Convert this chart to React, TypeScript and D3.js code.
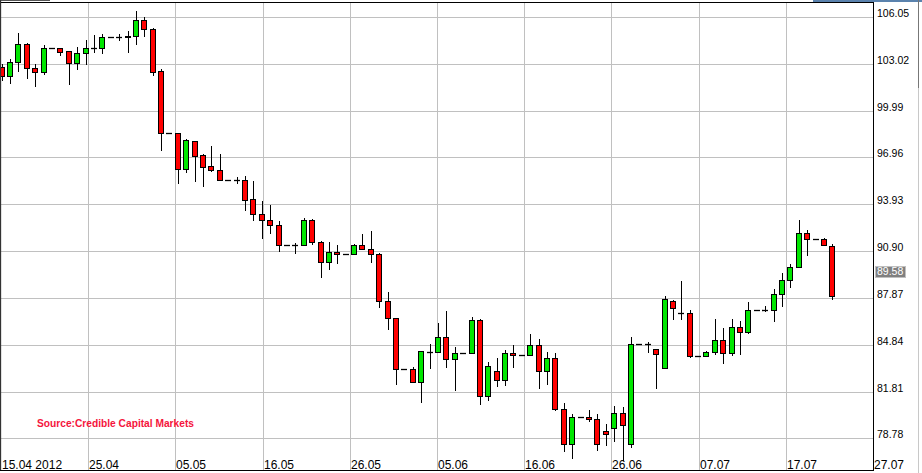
import React from "react";
import * as d3 from "d3";

const W = 922;
const H = 473;

// OHLC values, one bar per calendar day starting 15.04.2012
const opens = [
  102.79, 102.25, 103.12, 104.28, 102.73, 102.51, 104.02, 104.02, 103.83, 103.05,
  103.70, 104.02, 104.02, 104.74, 104.74, 104.74, 104.80, 105.84, 105.25, 102.53,
  98.52, 98.52, 96.23, 98.00, 97.10, 96.39, 96.13, 95.52, 95.52, 95.48,
  94.25, 93.28, 92.89, 92.57, 91.29, 91.29, 91.27, 92.91, 91.47, 90.21,
  90.82, 90.69, 90.69, 91.27, 91.01, 90.69, 87.65, 86.55, 83.25, 83.25,
  82.40, 84.37, 84.35, 85.32, 83.89, 84.28, 84.28, 86.42, 81.52, 83.12,
  82.53, 84.28, 84.15, 84.15, 84.80, 83.12, 83.96, 80.70, 78.39, 80.14,
  80.14, 80.01, 79.25, 79.43, 80.42, 78.39, 84.86, 84.86, 84.54, 83.31,
  87.65, 86.87, 86.87, 84.09, 84.09, 84.35, 85.12, 84.28, 85.96, 85.64,
  87.06, 87.06, 87.06, 88.10, 89.01, 89.85, 92.05, 91.66, 91.66, 91.21,
];
const highs = [
  103.01, 103.31, 105.01, 104.37, 102.99, 104.22, 104.02, 104.02, 103.83, 104.11,
  104.56, 104.88, 104.93, 104.74, 104.93, 105.14, 106.44, 106.05, 105.32, 102.66,
  98.52, 98.52, 98.13, 98.00, 97.18, 97.70, 97.18, 95.52, 95.71, 95.78,
  95.43, 94.14, 93.88, 92.85, 91.29, 91.40, 93.02, 92.97, 91.55, 91.47,
  91.27, 90.69, 91.34, 91.98, 92.18, 90.75, 88.23, 86.55, 83.25, 83.38,
  84.41, 84.86, 86.24, 87.02, 84.69, 84.28, 86.61, 86.48, 83.70, 83.96,
  84.48, 84.80, 84.15, 85.51, 85.21, 84.35, 84.28, 81.06, 80.35, 80.14,
  80.64, 80.35, 79.69, 80.87, 80.81, 85.36, 84.86, 85.01, 84.54, 87.99,
  87.72, 88.98, 87.06, 84.09, 84.41, 86.48, 85.90, 86.48, 86.35, 87.60,
  87.06, 87.32, 88.42, 89.48, 90.04, 92.91, 92.26, 91.66, 91.72, 91.34,
];
const lows = [
  101.97, 101.76, 102.57, 102.12, 101.60, 102.38, 104.02, 103.59, 101.73, 102.70,
  103.03, 103.80, 103.70, 104.74, 104.56, 103.80, 104.32, 104.84, 102.32, 97.46,
  98.52, 95.32, 96.02, 95.45, 95.13, 96.06, 95.52, 95.52, 95.32, 93.58,
  92.93, 91.76, 92.05, 90.90, 91.29, 90.79, 91.27, 91.34, 89.24, 89.76,
  90.15, 90.69, 90.69, 91.01, 90.21, 87.26, 85.83, 82.27, 83.25, 82.40,
  81.15, 83.31, 84.35, 83.41, 81.93, 84.28, 84.28, 81.02, 81.28, 82.14,
  82.25, 83.38, 84.15, 84.15, 82.02, 82.27, 80.63, 77.94, 77.52, 80.14,
  79.88, 78.00, 78.33, 78.62, 77.37, 78.24, 84.86, 84.35, 82.05, 83.31,
  86.48, 86.48, 84.02, 84.09, 84.09, 84.22, 83.63, 84.15, 84.22, 85.58,
  87.06, 87.00, 86.35, 87.36, 88.55, 89.85, 90.62, 91.66, 91.27, 87.78,
];
const closes = [
  102.25, 103.12, 104.28, 102.73, 102.51, 104.02, 104.02, 103.80, 103.05, 103.70,
  104.02, 104.02, 104.74, 104.74, 104.74, 104.79, 105.84, 105.25, 102.51, 98.52,
  98.52, 96.23, 98.07, 97.03, 96.36, 96.13, 95.52, 95.52, 95.52, 94.22,
  93.28, 92.89, 92.57, 91.29, 91.29, 91.29, 92.91, 91.47, 90.21, 90.82,
  90.69, 90.69, 91.27, 91.01, 90.69, 87.65, 86.55, 83.25, 83.25, 82.40,
  84.41, 84.37, 85.32, 83.89, 84.28, 84.28, 86.42, 81.52, 83.44, 82.53,
  84.28, 84.15, 84.15, 84.80, 83.12, 83.96, 80.70, 78.39, 80.14, 80.14,
  80.01, 78.39, 79.04, 80.42, 79.62, 84.90, 84.86, 84.86, 84.22, 87.78,
  87.19, 86.87, 84.09, 84.09, 84.35, 85.12, 84.28, 85.96, 85.64, 87.06,
  87.06, 87.06, 88.10, 89.01, 89.85, 92.05, 91.66, 91.66, 91.27, 87.97,
];

const yTicks = [78.78, 81.81, 84.84, 87.87, 90.9, 93.93, 96.96, 99.99, 103.02, 106.05];
const xTickLabels = [
  "15.04 2012", "25.04", "05.05", "16.05", "26.05", "05.06",
  "16.06", "26.06", "07.07", "17.07", "27.07",
];
const lastPrice = 89.58;
const sourceText = "Source:Credible Capital Markets";

const PLOT_L = 1;
const PLOT_R = 873;
const PLOT_T = 2;
const PLOT_B = 470;

export default function App() {
  const n = opens.length;
  const x = d3.scaleLinear().domain([0, n - 1]).range([1.7, 832.3]);
  const y = d3.scaleLinear().domain([76.73, 107.02]).range([PLOT_B, PLOT_T]);
  const gx = d3.scaleLinear().domain([0, xTickLabels.length - 1]).range([PLOT_L, PLOT_R]);

  const green = "#00e600";
  const red = "#ff0000";
  const grid = "#c0c0c0";
  const axisFont = "'Liberation Sans', Arial, sans-serif";

  const candles = d3.range(n).map((i) => {
    const c = Math.round(x(i));
    const o = opens[i];
    const cl = closes[i];
    const yo = Math.round(y(o));
    const yc = Math.round(y(cl));
    const yh = Math.round(y(highs[i]));
    const yl = Math.round(y(lows[i]));
    const top = Math.min(yo, yc);
    const bot = Math.max(yo, yc);
    const doji = bot - top < 1;
    const fill = cl > o ? green : red;
    return (
      <g key={i}>
        {yl > yh && (
          <line x1={c + 0.5} x2={c + 0.5} y1={yh} y2={yl + 1} stroke="#000" strokeWidth={1} />
        )}
        {doji ? (
          <line x1={c - 3} x2={c + 3} y1={top + 0.5} y2={top + 0.5} stroke="#000" strokeWidth={1.3} />
        ) : (
          <rect x={c - 2.5} y={top + 0.5} width={5} height={bot - top} fill={fill} stroke="#000" strokeWidth={1} />
        )}
      </g>
    );
  });

  const ly = y(lastPrice);

  return (
    <svg
      width={W}
      height={H}
      style={{ position: "absolute", left: 0, top: 0, background: "#fff" }}
    >
      <rect x={0} y={0} width={W} height={H} fill="#fff" />
      {/* window decorations */}
      <rect x={0} y={0} width={50} height={1} fill="#555" />
      <rect x={813} y={0} width={109} height={2} fill="#5a82ad" />
      <line x1={918.5} x2={918.5} y1={0} y2={88} stroke="#777" />
      <line x1={918.5} x2={918.5} y1={88} y2={H} stroke="#c8c8c8" />

      {/* grid */}
      <g clipPath="url(#clipPlot)">
        {yTicks.map((t) => (
          <line key={"h" + t} x1={PLOT_L} x2={PLOT_R} y1={Math.round(y(t)) + 0.5} y2={Math.round(y(t)) + 0.5} stroke={grid} strokeWidth={1} />
        ))}
        {xTickLabels.slice(1, -1).map((lab, i) => (
          <line key={"v" + lab} x1={Math.round(gx(i + 1)) + 0.5} x2={Math.round(gx(i + 1)) + 0.5} y1={PLOT_T} y2={PLOT_B} stroke={grid} strokeWidth={1} />
        ))}
      </g>
      <defs>
        <clipPath id="clipPlot">
          <rect x={PLOT_L} y={PLOT_T} width={PLOT_R - PLOT_L} height={PLOT_B - PLOT_T} />
        </clipPath>
      </defs>

      {/* candles */}
      <g clipPath="url(#clipPlot)">{candles}</g>

      {/* x tick labels */}
      {xTickLabels.map((lab, i) => (
        <text key={"xl" + lab} x={Math.round(gx(i)) + 1} y={468.5} fontFamily={axisFont} fontSize={12} fill="#000">
          {lab}
        </text>
      ))}

      {/* frame */}
      <line x1={0} x2={PLOT_R} y1={2.5} y2={2.5} stroke="#000" strokeWidth={1} />
      <line x1={0.5} x2={0.5} y1={0} y2={PLOT_B + 1} stroke="#333" strokeWidth={1.3} />
      <line x1={0} x2={PLOT_R} y1={PLOT_B + 0.5} y2={PLOT_B + 0.5} stroke="#000" strokeWidth={1} />
      <line x1={PLOT_R + 0.5} x2={PLOT_R + 0.5} y1={2} y2={PLOT_B + 1} stroke="#000" strokeWidth={1} />

      {/* y tick labels */}
      {yTicks.map((t) => (
        <text key={"yl" + t} x={877} y={Math.round(y(t))} fontFamily={axisFont} fontSize={10.5} fill="#000">
          {t.toFixed(2)}
        </text>
      ))}

      {/* last price marker */}
      <rect x={875.5} y={Math.round(ly) - 4.5} width={30} height={11} fill="#808080" stroke="#c0c0c0" strokeWidth={1} />
      <text x={877} y={Math.round(ly) + 4} fontFamily={axisFont} fontSize={10.5} fill="#fff">
        {lastPrice.toFixed(2)}
      </text>

      {/* source */}
      <text x={37} y={427} fontFamily={axisFont} fontSize={10.5} fontWeight="bold" fill="#f5143c" textLength={157} lengthAdjust="spacingAndGlyphs">
        {sourceText}
      </text>
    </svg>
  );
}
